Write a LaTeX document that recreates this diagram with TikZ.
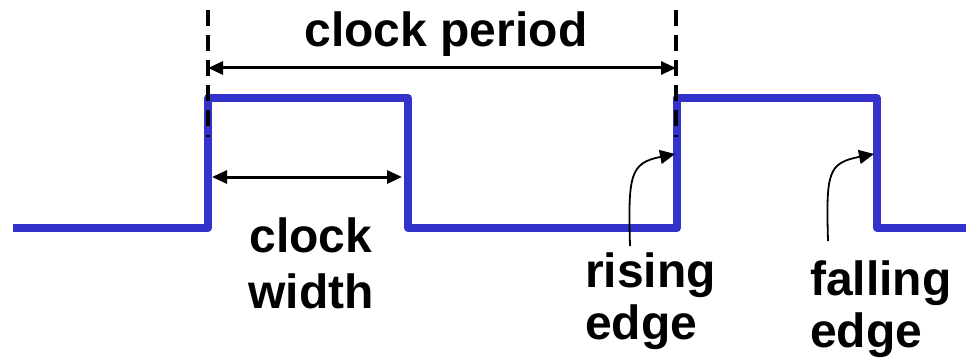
\documentclass[tikz,border=0pt]{standalone}
\usepackage{fontspec}
\setmainfont{Liberation Sans}
\usetikzlibrary{arrows.meta}
\definecolor{wave}{RGB}{51,51,204}
\begin{document}
\begin{tikzpicture}[x=1pt,y=-1pt,
  wavestyle/.style={draw=wave,line width=7.5pt,line join=round},
  guide/.style={draw=black,line width=4pt,dash pattern=on 16pt off 9pt},
  dimarrow/.style={draw=black,line width=3pt,{Triangle[length=15pt,width=13pt]}-{Triangle[length=15pt,width=13pt]}},
  pointer/.style={draw=black,line width=1.8pt,-{Triangle[length=15pt,width=14pt]}},
  lbl/.style={inner sep=0pt,font=\fontsize{48}{56}\selectfont\bfseries}]
\useasboundingbox (0,0) rectangle (972,361);
% waveform
\coordinate (w0) at (13,228);
\coordinate (w1) at (208,228);
\coordinate (w2) at (208,98);
\coordinate (w3) at (408,98);
\coordinate (w4) at (408,228);
\coordinate (w5) at (677,228);
\coordinate (w6) at (677,98);
\coordinate (w7) at (877,98);
\coordinate (w8) at (877,228);
\coordinate (w9) at (966,228);
\draw[wavestyle] (w0) -- (w1) -- (w2) -- (w3) -- (w4) -- (w5) -- (w6) -- (w7) -- (w8) -- (w9);
% dashed guides
\coordinate (g1t) at (208,10);
\coordinate (g1b) at (208,137);
\coordinate (g2t) at (676,10);
\coordinate (g2b) at (676,137);
\draw[guide] (g1t) -- (g1b);
\draw[guide] (g2t) -- (g2b);
% clock period arrow
\coordinate (p1) at (208,68);
\coordinate (p2) at (676,68);
\draw[dimarrow] (p1) -- (p2);
% clock width arrow
\coordinate (cwa) at (212,177);
\coordinate (cwb) at (402,177);
\draw[dimarrow] (cwa) -- (cwb);
% pointers
\coordinate (r0) at (630,246);
\coordinate (r1) at (675,154);
\draw[pointer] (r0) .. controls (628,175) and (630,163) .. (r1);
\coordinate (f0) at (828,241);
\coordinate (f1) at (874,154);
\draw[pointer] (f0) .. controls (826,172) and (828,163) .. (f1);
% labels
\node[lbl,anchor=base] (period) at (446,47) {clock period};
\node[lbl,anchor=base] (cw1) at (311,252) {clock};
\node[lbl,anchor=base] (cw2) at (311,308) {width};
\node[lbl,anchor=base west] (re1) at (585,287) {rising};
\node[lbl,anchor=base west] (re2) at (585,339) {edge};
\node[lbl,anchor=base west] (fe1) at (810,295) {falling};
\node[lbl,anchor=base west] (fe2) at (810,347) {edge};
\end{tikzpicture}
\end{document}
